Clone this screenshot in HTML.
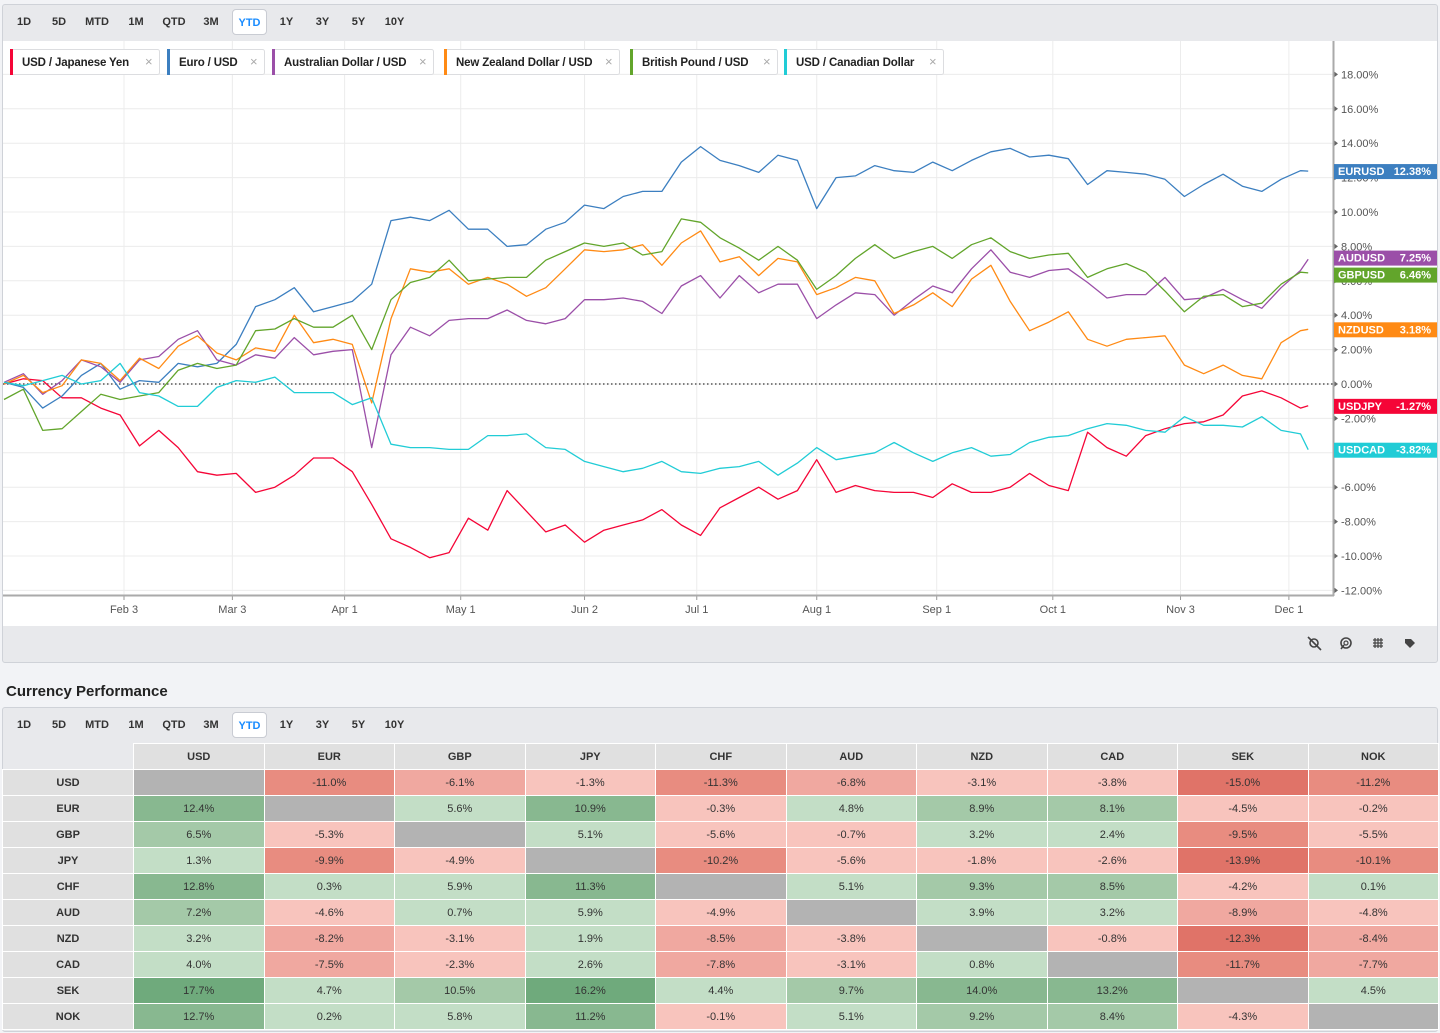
<!DOCTYPE html>
<html><head><meta charset="utf-8">
<style>
*{box-sizing:border-box;margin:0;padding:0}
body{width:1440px;height:1033px;background:#f2f3f6;font-family:"Liberation Sans",sans-serif;position:relative;overflow:hidden;color:#333}
.panel{position:absolute;left:2px;width:1436px;background:#e8e9ec;border:1px solid #cfd2d8;border-radius:3px}
.tb{position:absolute;left:0;top:0;height:36px;display:flex;align-items:center}
.tb span{display:inline-block;font-size:11px;font-weight:bold;color:#333;text-align:center;height:26px;line-height:26px}
.tb span.sel{background:#fff;border:1px solid #c9ccd3;border-radius:4px;color:#1a8cff}
#title{position:absolute;left:6px;top:683px;font-size:15px;font-weight:bold;color:#222}
table{position:absolute;left:2px;top:743px;border-collapse:collapse;font-size:11px}
td{width:130.5px;height:26px;text-align:center;border:1px solid #fff;color:#333}
td.h{background:#e0e0e0;font-weight:bold}
td.c0{width:131px;background:#e0e0e0;font-weight:bold}
td.blank{background:#e8e9ec;border-top:none;border-left:none}
</style></head><body>
<div class="panel" style="top:4px;height:659px"></div>
<div class="tb" style="left:7px;top:4px">
<span style="width:34px">1D</span><span style="width:36px">5D</span><span style="width:40px">MTD</span><span style="width:38px">1M</span><span style="width:38px">QTD</span><span style="width:36px">3M</span><span class="sel" style="width:35px;margin-left:3px">YTD</span><span style="width:37px;margin-left:1px">1Y</span><span style="width:35px">3Y</span><span style="width:37px">5Y</span><span style="width:35px">10Y</span>
</div>
<svg id="chart" width="1440" height="662" style="position:absolute;left:0;top:0" font-family="Liberation Sans, sans-serif">
<rect x="3" y="41" width="1434" height="585" fill="#fff"/>
<g id="grid"></g>
<g id="axes"></g>
<g id="series"></g>
<g id="legend"></g>
<g id="endlabels"></g>
<g id="tools" fill="#444" stroke="#444">
<g><circle cx="1314" cy="643" r="4" fill="none" stroke-width="1.6"/><line x1="1308" y1="637" x2="1321" y2="650" stroke-width="1.6"/></g>
<g><circle cx="1346" cy="643" r="5" fill="none" stroke-width="1.6"/><circle cx="1346" cy="643" r="2" fill="none" stroke-width="1.2"/><line x1="1341" y1="649" x2="1344" y2="645" stroke-width="1.6"/></g>
<g stroke-width="1.2"><path d="M1373 640h10M1373 643h10M1373 646h10M1375 638v10M1378 638v10M1381 638v10" fill="none"/></g>
<g><path d="M1405 639l6 0l4 4l-5 5l-5-5z" stroke="none"/></g>
</g>
</svg>

<div id="title">Currency Performance</div>
<div class="panel" style="top:707px;height:325px"></div>
<div class="tb" style="left:7px;top:707px">
<span style="width:34px">1D</span><span style="width:36px">5D</span><span style="width:40px">MTD</span><span style="width:38px">1M</span><span style="width:38px">QTD</span><span style="width:36px">3M</span><span class="sel" style="width:35px;margin-left:3px">YTD</span><span style="width:37px;margin-left:1px">1Y</span><span style="width:35px">3Y</span><span style="width:37px">5Y</span><span style="width:35px">10Y</span>
</div>
<table id="perf"></table>

<script>
// ---------- chart data ----------
const days = [2,7,12,17,22,27,32,37,42,47,52,57,62,67,72,77,82,87,92,97,102,107,112,117,122,127,132,137,142,147,152,157,162,167,172,177,182,187,192,197,202,207,212,217,222,227,232,237,242,247,252,257,262,267,272,277,282,287,292,297,302,307,312,317,322,327,332,337,339];
const usdjpy = [0,0.3,0.2,-0.8,-0.8,-1.4,-1.8,-3.6,-2.7,-3.7,-5.1,-5.3,-5.2,-6.3,-6.0,-5.3,-4.3,-4.3,-5.1,-7.0,-9.0,-9.5,-10.1,-9.8,-7.8,-8.5,-6.2,-7.4,-8.6,-8.2,-9.2,-8.5,-8.2,-7.9,-7.3,-8.2,-8.8,-7.2,-6.6,-6.0,-6.7,-6.2,-4.4,-6.3,-5.9,-6.2,-6.3,-6.3,-6.6,-5.8,-6.3,-6.3,-6.0,-5.2,-5.9,-6.2,-2.8,-3.7,-4.2,-3.0,-2.6,-2.3,-2.2,-1.8,-0.7,-0.4,-0.8,-1.4,-1.27];
const eurusd = [0.1,-0.2,-1.4,-0.7,0.5,1.2,-0.3,0.2,0.1,1.2,1.0,1.2,2.3,4.5,4.9,5.6,4.2,4.5,4.8,5.8,9.5,9.7,9.5,10.1,9.0,9.0,8.0,8.1,9.0,9.4,10.4,10.2,10.9,11.2,11.2,12.9,13.8,13.0,12.7,12.3,13.3,13.0,10.2,12.0,12.1,12.7,12.4,12.3,12.9,12.4,13.0,13.5,13.7,13.2,13.3,13.1,11.6,12.4,12.3,12.2,11.9,10.9,11.6,12.2,11.5,11.2,11.9,12.4,12.38];
const audusd = [0.1,0.6,-0.6,0.2,1.4,1.0,0.1,1.4,1.6,2.6,3.1,1.4,1.1,1.7,1.5,2.7,1.7,1.9,2.0,-3.7,1.7,3.3,2.8,3.7,3.8,3.8,4.3,3.7,3.5,3.8,4.9,4.9,5.0,4.8,4.1,5.7,6.3,5.0,6.3,5.3,5.8,5.8,3.8,4.6,5.3,5.2,4.0,4.9,5.7,5.3,6.7,7.8,6.5,6.2,6.6,6.7,5.9,5.0,5.2,5.2,6.2,4.9,5.0,5.5,4.9,4.4,5.6,6.6,7.25];
const nzdusd = [0,0.5,-0.5,-0.1,1.4,1.2,0.2,1.5,0.9,2.2,2.8,1.8,1.4,2.1,1.9,4.0,2.4,2.6,2.3,-1.1,3.8,6.7,6.5,6.7,5.8,6.2,5.8,5.1,5.6,6.7,7.8,7.7,7.8,8.1,6.9,8.2,8.9,7.1,7.4,6.3,7.3,7.1,5.2,5.6,6.2,6.0,4.1,4.6,5.3,4.5,6.1,6.9,4.8,3.1,3.6,4.2,2.6,2.2,2.6,2.7,2.8,1.1,0.6,1.1,0.5,0.3,2.4,3.1,3.18];
const gbpusd = [-0.9,-0.3,-2.7,-2.6,-1.6,-0.6,-0.9,-0.7,-0.5,0.8,1.2,0.9,1.1,3.1,3.2,3.8,3.3,3.3,4.0,2.0,4.9,5.9,6.2,7.2,6.0,6.1,6.2,6.2,7.2,7.7,8.2,8.0,8.2,7.5,7.7,9.6,9.4,8.5,7.9,7.2,8.0,7.2,5.5,6.3,7.3,8.1,7.3,7.7,8.0,7.3,8.1,8.5,7.7,7.3,7.5,7.6,6.2,6.7,7.0,6.5,5.4,4.2,5.1,5.2,4.5,4.7,5.8,6.5,6.46];
const usdcad = [0.1,-0.1,0.2,0.5,0,0.2,1.2,-0.5,-0.7,-1.3,-1.3,-0.2,0.2,0.1,0.4,-0.5,-0.5,-0.5,-1.2,-0.8,-3.5,-3.7,-3.7,-3.8,-3.8,-3.0,-3.0,-2.9,-3.7,-3.8,-4.5,-4.8,-5.1,-4.9,-4.5,-5.1,-5.2,-4.9,-4.8,-4.5,-5.3,-4.6,-3.7,-4.4,-4.2,-4.0,-3.4,-4.0,-4.5,-4.0,-3.7,-4.2,-4.1,-3.4,-3.1,-3.0,-2.6,-2.3,-2.4,-2.7,-2.8,-1.9,-2.4,-2.4,-2.5,-1.9,-2.7,-2.9,-3.82];
const seriesNames = ["USD / Japanese Yen","Euro / USD","Australian Dollar / USD","New Zealand Dollar / USD","British Pound / USD","USD / Canadian Dollar"];
const seriesCodes = ["USDJPY","EURUSD","AUDUSD","NZDUSD","GBPUSD","USDCAD"];
const yTicks = [18,16,14,12,10,8,6,4,2,0,-2,-4,-6,-8,-10,-12];
const xTickDays = [33,61,90,120,152,181,212,243,273,306,334];
const xTickLabels = ["Feb 3","Mar 3","Apr 1","May 1","Jun 2","Jul 1","Aug 1","Sep 1","Oct 1","Nov 3","Dec 1"];

const colors = ["#f50537","#3c7fc0","#9b4fa8","#ff8a14","#62a52b","#21ccd6"];
const allSeries = [usdjpy,eurusd,audusd,nzdusd,gbpusd,usdcad];
const NS = "http://www.w3.org/2000/svg";
const xs = d => -3.7 + 3.87*d;
const ys = v => 384 - 17.2*v;
function mk(tag, attrs, parent){const e=document.createElementNS(NS,tag);for(const k in attrs)e.setAttribute(k,attrs[k]);parent.appendChild(e);return e;}

const grid = document.getElementById('grid'), axes = document.getElementById('axes');
yTicks.forEach(t=>{
  const g = mk('line',{x1:3,x2:1333,y1:ys(t),y2:ys(t),stroke:'#ececec','stroke-width':1},grid);
  
  
  const tk = mk('path',{d:`M1334 ${ys(t)-3}l4 3l-4 3z`,fill:'#666'},axes);
  
  
  const tx = mk('text',{x:1341,y:ys(t)+4,'font-size':11,fill:'#555'},axes);
  tx.textContent = t.toFixed(2)+'%';
  
  
});
xTickDays.forEach((d,i)=>{
  const g = mk('line',{x1:xs(d),x2:xs(d),y1:41,y2:595,stroke:'#ececec','stroke-width':1},grid);
  
  
  const tk = mk('line',{x1:xs(d),x2:xs(d),y1:595,y2:600,stroke:'#999'},axes);
  
  
  const tx = mk('text',{x:xs(d),y:613,'font-size':11,fill:'#555','text-anchor':'middle'},axes);
  tx.textContent = xTickLabels[i];
  
  
});
const yax = mk('line',{x1:1333.5,x2:1333.5,y1:41,y2:596,stroke:'#aaa','stroke-width':2},axes);


const xax = mk('line',{x1:3,x2:1334,y1:595.5,y2:595.5,stroke:'#aaa','stroke-width':2},axes);


const zl = mk('line',{x1:3,x2:1333,y1:ys(0),y2:ys(0),stroke:'#555','stroke-width':1.5,'stroke-dasharray':'1.5 2.5'},axes);



const sg = document.getElementById('series');
allSeries.forEach((s,i)=>{
  const d = s.map((v,j)=>(j?'L':'M')+xs(days[j]).toFixed(1)+' '+ys(v).toFixed(1)).join(' ');
  const p = mk('path',{d:d,fill:'none',stroke:colors[i],'stroke-width':1.3,'stroke-linejoin':'round'},sg);
  
  
});

// legend chips
const lg = document.getElementById('legend');
const chipX = [10,167,272,444,630,784], chipW=[149,97,161,175,147,159];
seriesNames.forEach((n,i)=>{
  const g = mk('g',{},lg);
  
  
  mk('rect',{x:chipX[i]+0.5,y:49.5,width:chipW[i],height:25,rx:2,fill:'#fff',stroke:'#dcdde0'},g);
  mk('rect',{x:chipX[i],y:49,width:3,height:26,fill:colors[i]},g);
  const t = mk('text',{x:chipX[i]+12,y:66,'font-size':11.5,fill:'#222','font-weight':'bold','letter-spacing':'-0.15'},g);
  t.textContent = n;
  const c = mk('text',{x:chipX[i]+chipW[i]-14,y:66,'font-size':13,fill:'#aaa'},g);
  c.textContent = '×';
  
  
});

// end labels with de-overlap
const el = document.getElementById('endlabels');
const ends = allSeries.map((s,i)=>({i:i,y:ys(s[s.length-1]),v:s[s.length-1]})).sort((a,b)=>a.y-b.y);
for(let k=1;k<ends.length;k++){ if(ends[k].y-ends[k-1].y<17){const m=(ends[k].y+ends[k-1].y)/2; ends[k-1].y=m-8.5; ends[k].y=m+8.5;} }
ends.forEach(e=>{
  const g = mk('g',{},el);
  
  
  mk('rect',{x:1334,y:e.y-7,width:103,height:15,fill:colors[e.i]},g);
  const a = mk('text',{x:1338,y:e.y+4,'font-size':11,'font-weight':'bold',fill:'#fff'},g);
  a.textContent = seriesCodes[e.i];
  const b = mk('text',{x:1431,y:e.y+4,'font-size':11,'font-weight':'bold',fill:'#fff','text-anchor':'end'},g);
  b.textContent = e.v.toFixed(2)+'%';
});

// ---------- table ----------
const ccy = ["USD","EUR","GBP","JPY","CHF","AUD","NZD","CAD","SEK","NOK"];
const perf = [
[null,-11.0,-6.1,-1.3,-11.3,-6.8,-3.1,-3.8,-15.0,-11.2],
[12.4,null,5.6,10.9,-0.3,4.8,8.9,8.1,-4.5,-0.2],
[6.5,-5.3,null,5.1,-5.6,-0.7,3.2,2.4,-9.5,-5.5],
[1.3,-9.9,-4.9,null,-10.2,-5.6,-1.8,-2.6,-13.9,-10.1],
[12.8,0.3,5.9,11.3,null,5.1,9.3,8.5,-4.2,0.1],
[7.2,-4.6,0.7,5.9,-4.9,null,3.9,3.2,-8.9,-4.8],
[3.2,-8.2,-3.1,1.9,-8.5,-3.8,null,-0.8,-12.3,-8.4],
[4.0,-7.5,-2.3,2.6,-7.8,-3.1,0.8,null,-11.7,-7.7],
[17.7,4.7,10.5,16.2,4.4,9.7,14.0,13.2,null,4.5],
[12.7,0.2,5.8,11.2,-0.1,5.1,9.2,8.4,-4.3,null]];
function col(v){
  if(v===null) return '#b3b3b3';
  if(v<=-12) return '#e07368';
  if(v<=-9.5) return '#e88c80';
  if(v<=-6) return '#f0a8a0';
  if(v<0) return '#f8c4bd';
  if(v>=15) return '#6faa7c';
  if(v>=10.7) return '#88b890';
  if(v>=6) return '#a4c9a8';
  return '#c3dec6';
}
const tbl = document.getElementById('perf');
let html = '<tr><td class="c0 blank"></td>' + ccy.map(c=>`<td class="h">${c}</td>`).join('') + '</tr>';
perf.forEach((r,i)=>{
  html += `<tr><td class="c0">${ccy[i]}</td>` +
    r.map((v,j)=>`<td style="background:${col(v)}">${v===null?'':v.toFixed(1)+'%'}</td>`).join('') + '</tr>';
});
tbl.innerHTML = html;
</script>
</body></html>
